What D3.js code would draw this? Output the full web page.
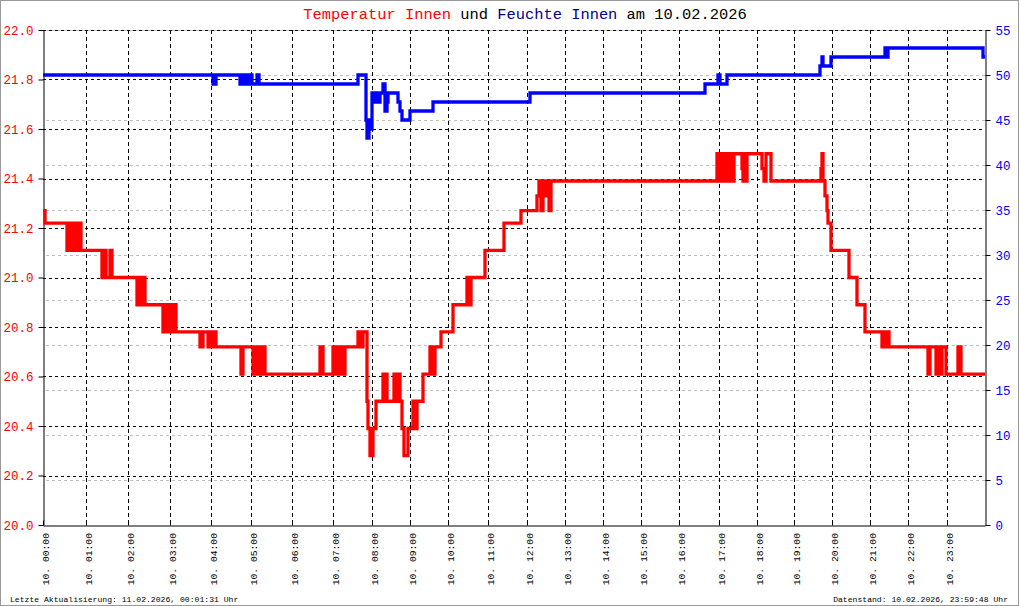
<!DOCTYPE html>
<html><head><meta charset="utf-8">
<script src="https://cdn.jsdelivr.net/npm/d3@7"></script>
<style>
html,body{margin:0;padding:0;background:#fff;}
svg{display:block;}
text{font-family:"Liberation Mono","DejaVu Sans Mono",monospace;}
</style></head>
<body>
<script>
// ---- data (x = sample index, 0..942) ----
const sampleCount = 942;
const hourLabels = ["10. 00:00","10. 01:00","10. 02:00","10. 03:00","10. 04:00","10. 05:00","10. 06:00","10. 07:00","10. 08:00","10. 09:00","10. 10:00","10. 11:00","10. 12:00","10. 13:00","10. 14:00","10. 15:00","10. 16:00","10. 17:00","10. 18:00","10. 19:00","10. 20:00","10. 21:00","10. 22:00","10. 23:00"];
const hourIdx = [0,43,85,127,168,208,249,290,329,367,405,445,484,522,560,598,636,676,714,751,789,827,865,904];
const tempTicks = [20.0,20.2,20.4,20.6,20.8,21.0,21.2,21.4,21.6,21.8,22.0];
const humTicks = [0,5,10,15,20,25,30,35,40,45,50,55];

const tempIdx = [0,2,24,25,27,28,30,31,33,34,36,37,38,
 59,61,63,67,69,
 94,96,98,100,102,
 120,123,125,127,129,131,133,
 157,160,165,167,169,171,173,
 198,200,210,212,214,216,218,220,222,
 277,280,290,292,294,296,298,300,302,
 315,318,320,324,325,327,330,333,
 340,341,342,344,351,352,353,354,355,357,
 359,361,365,370,371,372,373,374,
 380,387,388,389,391,392,
 398,410,424,425,426,427,428,
 442,461,478,494,496,498,500,502,504,506,508,
 674,676,677,679,681,683,684,686,688,690,691,699,700,702,703,704,719,721,723,728,
 778,779,780,782,784,785,788,806,814,822,839,840,842,844,846,
 885,887,893,895,897,899,903,915,918,942];
const tempVal = [21.27,21.22,21.11,21.22,21.11,21.22,21.11,21.22,21.11,21.22,21.11,21.22,21.11,
 21.00,21.11,21.00,21.11,21.00,
 20.89,21.00,20.89,21.00,20.89,
 20.78,20.89,20.78,20.89,20.78,20.89,20.78,
 20.72,20.78,20.72,20.78,20.72,20.78,20.72,
 20.61,20.72,20.61,20.72,20.61,20.72,20.61,20.72,20.61,
 20.72,20.61,20.72,20.61,20.72,20.61,20.72,20.61,20.72,
 20.78,20.72,20.78,20.50,20.39,20.28,20.39,20.50,
 20.61,20.50,20.61,20.50,20.61,20.50,20.61,20.50,20.61,20.50,
 20.39,20.28,20.39,20.50,20.39,20.50,20.39,20.50,
 20.61,20.72,20.61,20.72,20.61,20.72,
 20.78,20.89,21.00,20.89,21.00,20.89,21.00,
 21.11,21.22,21.27,21.33,21.39,21.27,21.39,21.33,21.39,21.27,21.39,
 21.50,21.39,21.50,21.39,21.50,21.39,21.50,21.39,21.50,21.39,21.50,21.44,21.39,21.50,21.39,21.50,21.44,21.39,21.50,21.39,
 21.44,21.50,21.39,21.33,21.27,21.22,21.11,21.00,20.89,20.78,20.72,20.78,20.72,20.78,20.72,
 20.61,20.72,20.61,20.72,20.61,20.72,20.61,20.72,20.61,20.61];

const humIdx = [0,170,173,197,199,201,203,205,207,209,214,216,
 315,323,324,326,328,329,332,333,334,335,336,337,340,342,344,345,355,357,359,367,390,487,
 662,675,677,684,777,779,780,788,842,843,845,940,942];
const humVal = [50,49,50,49,50,49,50,49,50,49,50,49,
 50,45,43,45,44,48,47,48,47,48,47,48,49,46,47,48,47,46,45,46,47,48,
 49,50,49,50,51,52,51,52,53,52,53,52,52];

// ---- drawing ----
const W = 1020, H = 606;
const L = 43, R = 985, T = 30, B = 525;
const svg = d3.select("body").append("svg").attr("width", W).attr("height", H);

svg.append("rect").attr("x",0.5).attr("y",0.5).attr("width",W-2).attr("height",H-1)
  .attr("fill","#fff").attr("stroke","#999");

const x = d3.scaleLinear().domain([0, sampleCount]).range([L, R]);
const yT = d3.scaleLinear().domain([20, 22]).range([B, T]);
const yH = d3.scaleLinear().domain([0, 55]).range([B, T]);

// grid: grey at humidity ticks
svg.append("g").selectAll("line").data(humTicks.filter(d=>d>0)).join("line")
  .attr("x1", L+3).attr("x2", R).attr("y1", d=>Math.round(yH(d))+0.5).attr("y2", d=>Math.round(yH(d))+0.5)
  .attr("stroke","#c0c0c0").attr("stroke-dasharray","3,3");
// grid: black at temperature ticks
svg.append("g").selectAll("line").data(tempTicks.filter(d=>d>20)).join("line")
  .attr("x1", L).attr("x2", R).attr("y1", d=>Math.round(yT(d))+0.5).attr("y2", d=>Math.round(yT(d))+0.5)
  .attr("stroke","#000").attr("stroke-dasharray","3,3");
// vertical hour grid
svg.append("g").selectAll("line").data(hourIdx.slice(1)).join("line")
  .attr("x1", d=>Math.round(x(d))+0.5).attr("x2", d=>Math.round(x(d))+0.5).attr("y1", T).attr("y2", B)
  .attr("stroke","#000").attr("stroke-dasharray","4,3");

// axes
const fmt1 = d3.format(".1f");
const gl = svg.append("g").attr("transform",`translate(${L+0.5},0)`)
  .call(d3.axisLeft(yT).tickValues(tempTicks).tickFormat(fmt1).tickSize(5).tickPadding(5).tickSizeOuter(0));
gl.selectAll("text").attr("fill","#ff0000").style("font-size","12.5px").style("font-family","Liberation Mono, monospace");
gl.selectAll("line,path").attr("stroke","#000");

const gr = svg.append("g").attr("transform",`translate(${R+0.5},0)`)
  .call(d3.axisRight(yH).tickValues(humTicks).tickFormat(d3.format("d")).tickSize(5).tickPadding(5).tickSizeOuter(0));
gr.selectAll("text").attr("fill","#0000ff").style("font-size","12.5px").style("font-family","Liberation Mono, monospace");
gr.selectAll("line,path").attr("stroke","#000");

const gb = svg.append("g").attr("transform",`translate(0,${B+0.5})`)
  .call(d3.axisBottom(x).tickValues(hourIdx).tickSize(-5).tickFormat("").tickSizeOuter(0));
gb.selectAll("line,path").attr("stroke","#000");

// x labels rotated
svg.append("g").selectAll("text").data(hourIdx).join("text")
  .attr("transform", (d)=>`translate(${x(d)+5.5},${B+8}) rotate(-90)`)
  .attr("text-anchor","end")
  .style("font-size","9.7px")
  .attr("fill","#000")
  .text((d,i)=>hourLabels[i]);

// lines
const lineT = d3.line().x((d,i)=>x(tempIdx[i])).y(d=>yT(d)).curve(d3.curveStepAfter);
const lineH = d3.line().x((d,i)=>x(humIdx[i])).y(d=>yH(d)).curve(d3.curveStepAfter);
svg.append("path").attr("d", lineT(tempVal)).attr("fill","none").attr("stroke","#ff0000").attr("stroke-width",3.3);
svg.append("path").attr("d", lineH(humVal)).attr("fill","none").attr("stroke","#0000ff").attr("stroke-width",3.3);

// title
const title = svg.append("text").attr("x", 525).attr("y", 19).attr("text-anchor","middle").style("font-size","15.4px");
title.append("tspan").attr("fill","#ff0000").text("Temperatur Innen");
title.append("tspan").attr("fill","#000").text(" und ");
title.append("tspan").attr("fill","#000090").text("Feuchte Innen");
title.append("tspan").attr("fill","#000").text(" am 10.02.2026");

// footers
svg.append("text").attr("x",10).attr("y",602).style("font-size","8.1px").attr("fill","#000")
  .text("Letzte Aktualisierung: 11.02.2026, 00:01:31 Uhr");
svg.append("text").attr("x",1008).attr("y",602).attr("text-anchor","end").style("font-size","8.1px").attr("fill","#000")
  .text("Datenstand: 10.02.2026, 23:59:48 Uhr");
</script>
</body></html>
